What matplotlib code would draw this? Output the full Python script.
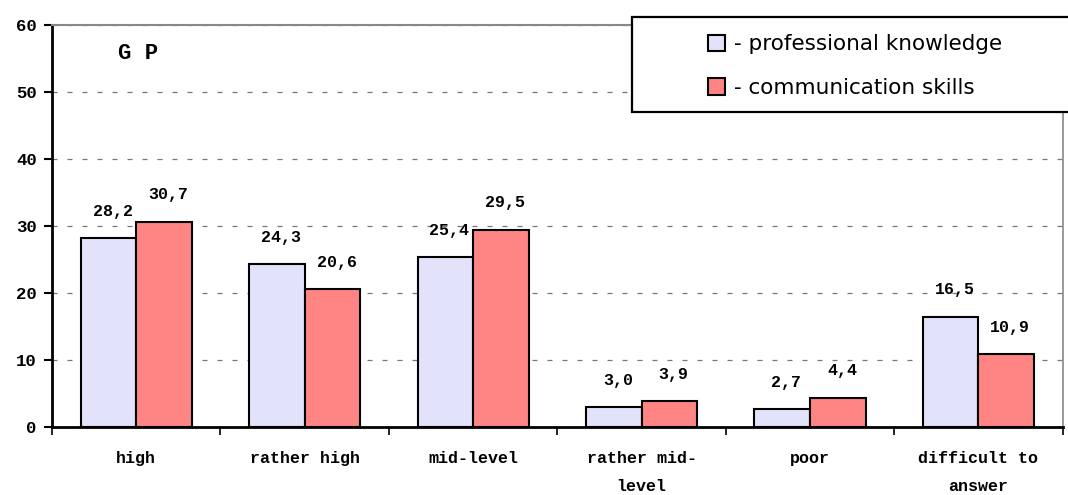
import numpy as np
import matplotlib
matplotlib.use("Agg")
import matplotlib.pyplot as plt
from matplotlib.patches import Rectangle

# ── data ──────────────────────────────────────────────────────────────────────
categories    = ["high", "rather high", "mid-level", "rather mid-\nlevel", "poor", "difficult to\nanswer"]
professional  = [28.2, 24.3, 25.4, 3.0, 2.7, 16.5]
communication = [30.7, 20.6, 29.5, 3.9, 4.4, 10.9]
series_names  = ["- professional knowledge", "- communication skills"]

C_PROF = "#E2E2FA"
C_COMM = "#FF8484"
MONO   = "Liberation Mono"

# ── plot ──────────────────────────────────────────────────────────────────────
fig = plt.figure(figsize=(10.68, 4.95), dpi=100)
ax = fig.add_axes([0.0487, 0.137, 0.9463, 0.812])

x = np.arange(len(categories))
w = 0.33
b1 = ax.bar(x - w / 2, professional, w, color=C_PROF, edgecolor="black", linewidth=1.5,
            label=series_names[0], zorder=3)
b2 = ax.bar(x + w / 2, communication, w, color=C_COMM, edgecolor="black", linewidth=1.5,
            label=series_names[1], zorder=3)

for bars, vals in ((b1, professional), (b2, communication)):
    for rect, v in zip(bars, vals):
        ax.annotate(f"{v:.1f}".replace(".", ","),
                    (rect.get_x() + rect.get_width() / 2, v),
                    xytext=(3, 14), textcoords="offset points", ha="center", va="bottom",
                    fontsize=12, fontweight="bold", family=MONO, zorder=4)

ax.set_xlim(-0.5, len(categories) - 0.5)
ax.set_ylim(0, 60)
ax.set_yticks(range(0, 61, 10))
ax.set_xticks(np.arange(-0.5, len(categories), 1.0))
ax.set_xticklabels([])
ax.set_xticks(x, minor=True)
ax.set_xticklabels(categories, minor=True, fontsize=12, fontweight="bold", family=MONO,
                   linespacing=2.1)
ax.tick_params(axis="x", which="major", direction="out", length=6, width=1.2)
ax.tick_params(axis="x", which="minor", length=0, pad=17)
ax.tick_params(axis="y", direction="out", length=6, width=1.5, pad=5)
for lab in ax.get_yticklabels():
    lab.set_fontweight("bold")
    lab.set_family(MONO)
    lab.set_fontsize(12.5)

ax.yaxis.grid(True, linestyle=(0, (4, 8)), color="#777777", linewidth=0.9, zorder=0)

for s in ("left", "bottom"):
    ax.spines[s].set_color("black")
    ax.spines[s].set_linewidth(2)
ax.spines["top"].set_color("#888888")
ax.spines["top"].set_linewidth(1.5)
ax.spines["right"].set_color("#888888")
ax.spines["right"].set_linewidth(1.2)

ax.text(0.065, 0.93, "G P", transform=ax.transAxes, fontsize=16, fontweight="bold",
        family=MONO, va="center", ha="left")

# legend box runs off the right edge like the original
box = Rectangle((0.574, 0.784), 0.45, 0.236, transform=ax.transAxes, facecolor="white",
                edgecolor="black", linewidth=1.6, clip_on=False, zorder=6)
ax.add_patch(box)
leg = ax.legend(loc="upper left", bbox_to_anchor=(0.649, 0.977), frameon=False,
                fontsize=15.5, handlelength=0.8, handleheight=0.8, handletextpad=0.4,
                borderpad=0, labelspacing=1.1, borderaxespad=0)
leg.set_zorder(7)
for h in leg.legend_handles:
    h.set_linewidth(1.5)

fig.savefig("out.png", dpi=100)
